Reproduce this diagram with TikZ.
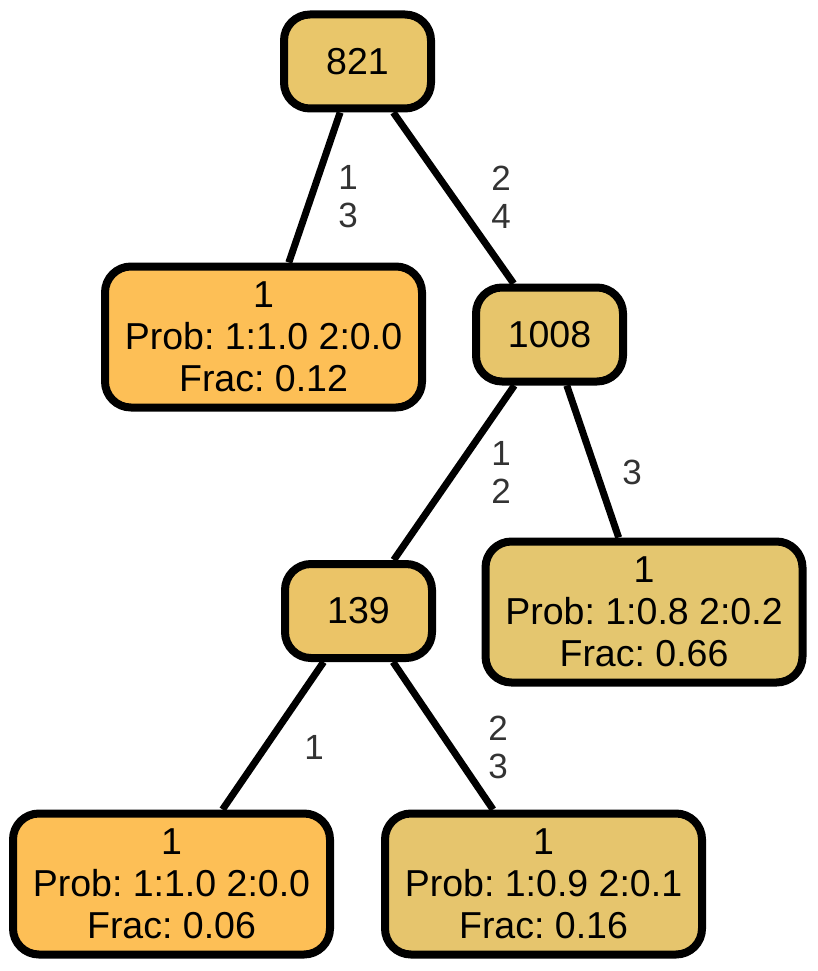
\documentclass[tikz,border=0pt]{standalone}
\usepackage{fontspec}
\setmainfont{Liberation Sans}
\frenchspacing
\definecolor{cA}{HTML}{E9C66A}
\definecolor{cB}{HTML}{FDBF56}
\definecolor{cC}{HTML}{E7C56B}
\definecolor{cD}{HTML}{E4C66F}
\definecolor{cE}{HTML}{EBC467}
\definecolor{cF}{HTML}{E6C56D}
\definecolor{lbl}{HTML}{333333}
\begin{document}
\begin{tikzpicture}[x=1pt,y=-1pt,
  box/.style={draw=black,line width=8pt,rounded corners=26pt,inner sep=0pt,
    align=center,font=\fontsize{37.5}{42}\selectfont},
  small/.style={box,minimum width=147pt,minimum height=94pt},
  leaf/.style={box,minimum width=317pt,minimum height=141pt},
  edge/.style={line width=7pt},
  elab/.style={text=lbl,align=center,font=\fontsize{35}{38}\selectfont,inner sep=0pt}]
\useasboundingbox (0,0) rectangle (817,971);
\node[small,fill=cA] (n821) at (357.5,61.5) {821};
\node[leaf,fill=cB] (l1) at (263.5,337) {1\\Prob: 1:1.0 2:0.0\\Frac: 0.12};
\node[small,fill=cC] (n1008) at (549.5,334.5) {1008};
\node[small,fill=cE] (n139) at (358.5,611) {139};
\node[leaf,fill=cD] (l2) at (644,612) {1\\Prob: 1:0.8 2:0.2\\Frac: 0.66};
\node[leaf,fill=cB] (l3) at (171.5,884) {1\\Prob: 1:1.0 2:0.0\\Frac: 0.06};
\node[leaf,fill=cF] (l4) at (543.5,884) {1\\Prob: 1:0.9 2:0.1\\Frac: 0.16};
\draw[edge] (n821) -- (l1);
\draw[edge] (n821) -- (n1008);
\draw[edge] (n1008) -- (n139);
\draw[edge] (n1008) -- (l2);
\draw[edge] (n139) -- (l3);
\draw[edge] (n139) -- (l4);
\node[elab] (e1) at (348,197) {1\\3};
\node[elab] (e2) at (501,197) {2\\4};
\node[elab] (e3) at (501,472) {1\\2};
\node[elab] (e4) at (632,472) {3};
\node[elab] (e5) at (314,747) {1};
\node[elab] (e6) at (498,747) {2\\3};
\end{tikzpicture}
\end{document}
